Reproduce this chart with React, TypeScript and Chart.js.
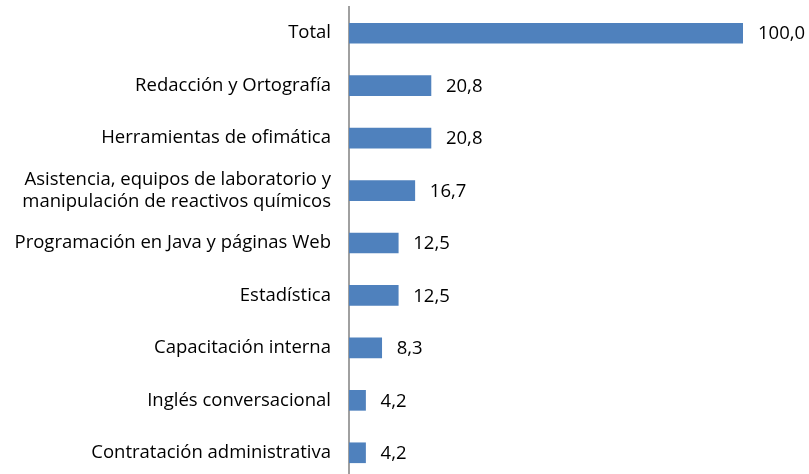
import React, { useEffect, useRef } from "react";
import { Chart, registerables } from "chart.js";

Chart.register(...registerables);

const categories: (string | string[])[] = [
  "Total",
  "Redacción y Ortografía",
  "Herramientas de ofimática",
  ["Asistencia, equipos de laboratorio y", "manipulación de reactivos químicos"],
  "Programación en Java y páginas Web",
  "Estadística",
  "Capacitación interna",
  "Inglés conversacional",
  "Contratación administrativa",
];

const values: number[] = [100.0, 20.8, 20.8, 16.7, 12.5, 12.5, 8.3, 4.2, 4.2];

const FONT = "'Open Sans'";
const FONT_SIZE = 18.5;

const valueLabels = {
  id: "valueLabels",
  afterDatasetsDraw(chart: any) {
    const ctx = chart.ctx;
    const meta = chart.getDatasetMeta(0);
    ctx.save();
    ctx.font = `${FONT_SIZE}px ${FONT}`;
    ctx.fillStyle = "#000";
    ctx.textAlign = "left";
    ctx.textBaseline = "middle";
    meta.data.forEach((bar: any, i: number) => {
      const txt = values[i].toFixed(1).replace(".", ",");
      ctx.fillText(txt, bar.x + 15, bar.y + 1);
    });
    ctx.restore();
  },
};

export default function App() {
  const ref = useRef<HTMLCanvasElement>(null);
  useEffect(() => {
    document.body.style.margin = "0";
    document.body.style.overflow = "hidden";
    const chart = new Chart(ref.current!, {
      type: "bar",
      data: {
        labels: categories,
        datasets: [
          {
            data: values,
            backgroundColor: "#4F81BD",
            barThickness: 20,
          },
        ],
      },
      options: {
        indexAxis: "y",
        animation: false,
        responsive: false,
        maintainAspectRatio: false,
        layout: { padding: { top: 7, right: 66, left: 0, bottom: 1 } },
        plugins: { legend: { display: false }, tooltip: { enabled: false } },
        scales: {
          x: { display: false, min: 0, max: 100 },
          y: {
            grid: { display: false },
            border: { display: true, color: "#a0a0a0", width: 2 },
            ticks: {
              color: "#000",
              padding: 10,
              font: { family: FONT, size: FONT_SIZE, lineHeight: 1.2 },
            },
            afterFit: (s: any) => {
              s.width = 349;
              s.paddingTop = 0;
              s.paddingBottom = 0;
            },
          },
        },
      },
      plugins: [valueLabels],
    });
    return () => chart.destroy();
  }, []);
  return (
    <div style={{ position: "absolute", left: 0, top: 0, width: 809, height: 474, overflow: "hidden", background: "#fff" }}>
      <canvas ref={ref} width={809} height={480} />
    </div>
  );
}
